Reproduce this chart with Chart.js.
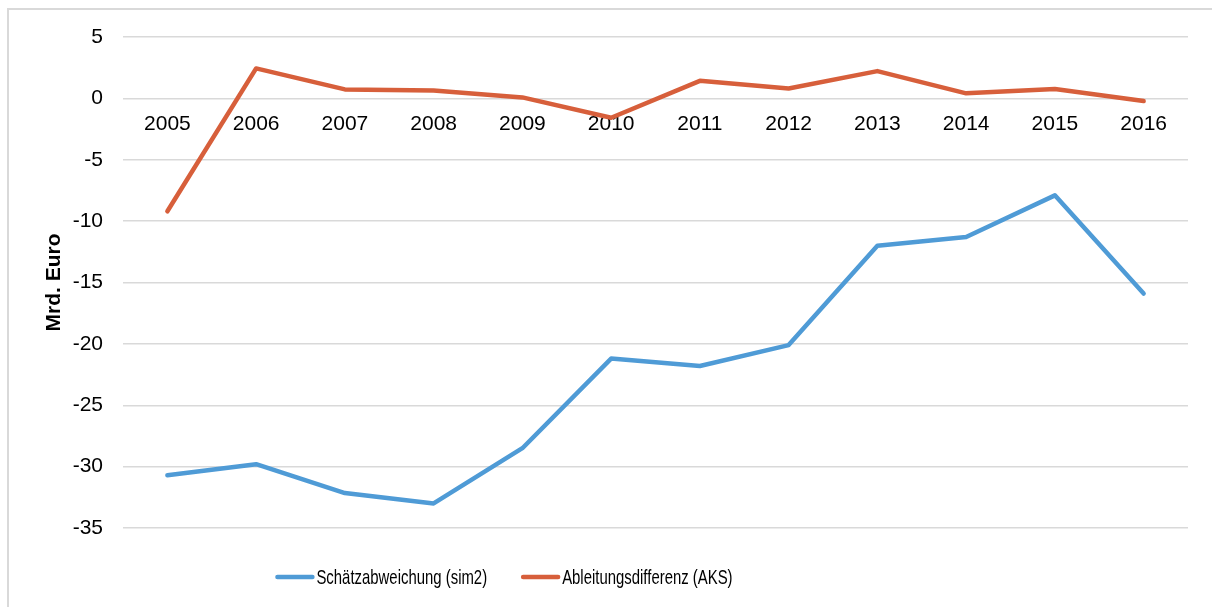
<!DOCTYPE html>
<html><head><meta charset="utf-8">
<script src="https://cdn.jsdelivr.net/npm/chart.js@4/dist/chart.umd.min.js"></script>
<style>
html,body{margin:0;padding:0;background:#fff;}
#wrap{position:relative;width:1212px;height:607px;overflow:hidden;background:#fff;}
#frame{position:absolute;left:7px;top:8px;width:1300px;height:700px;border-left:2px solid #d9d9d9;border-top:2px solid #d9d9d9;}
canvas{position:absolute;left:0;top:0;}
</style></head><body>
<div id="wrap"><div id="frame"></div><canvas id="c" width="1212" height="607"></canvas></div>
<script>
const years = ['2005','2006','2007','2008','2009','2010','2011','2012','2013','2014','2015','2016'];
const sim2 = [-30.7, -29.8, -32.15, -33.0, -28.5, -21.2, -21.8, -20.1, -12.0, -11.3, -7.9, -15.9];
const aks  = [-9.2, 2.44, 0.73, 0.65, 0.08, -1.58, 1.43, 0.81, 2.22, 0.41, 0.76, -0.22];
const seriesNames = ['Schätzabweichung (sim2)', 'Ableitungsdifferenz (AKS)'];
const yMin = -35, yMax = 5, yStep = 5;
const axisTitle = 'Mrd. Euro';

const FONT = '"Liberation Sans", Arial, sans-serif';

const legendPlugin = {
  id: 'customLegend',
  afterDraw(chart) {
    const ctx = chart.ctx;
    const fs = 21, sx = 0.71, lineLen = 35, gap = 4, itemGap = 36, cy = 577, cx = 505;
    ctx.save();
    ctx.font = fs + 'px ' + FONT;
    const items = chart.data.datasets.map(ds => ({
      label: ds.label, color: ds.borderColor, w: ctx.measureText(ds.label).width * sx
    }));
    const total = items.reduce((s, it) => s + lineLen + gap + it.w, 0) + itemGap * (items.length - 1);
    let x = cx - total / 2;
    items.forEach(it => {
      ctx.strokeStyle = it.color;
      ctx.lineWidth = 4.5;
      ctx.lineCap = 'round';
      ctx.beginPath();
      ctx.moveTo(x, cy);
      ctx.lineTo(x + lineLen, cy);
      ctx.stroke();
      x += lineLen + gap;
      ctx.save();
      ctx.translate(x, cy + 1);
      ctx.scale(sx, 1);
      ctx.fillStyle = '#000';
      ctx.textBaseline = 'middle';
      ctx.textAlign = 'left';
      ctx.fillText(it.label, 0, 0);
      ctx.restore();
      x += it.w + itemGap;
    });
    ctx.restore();
  }
};

new Chart(document.getElementById('c'), {
  type: 'line',
  data: {
    labels: years,
    datasets: [
      { label: seriesNames[0], data: sim2, borderColor: '#4f9bd6', backgroundColor: '#4f9bd6',
        borderWidth: 4.5, pointRadius: 0, tension: 0, borderCapStyle: 'round', borderJoinStyle: 'round' },
      { label: seriesNames[1], data: aks, borderColor: '#d75f3b', backgroundColor: '#d75f3b',
        borderWidth: 4.5, pointRadius: 0, tension: 0, borderCapStyle: 'round', borderJoinStyle: 'round' }
    ]
  },
  options: {
    responsive: false,
    animation: false,
    devicePixelRatio: 1,
    layout: { padding: { left: 42, right: 24, top: 37, bottom: 79 } },
    plugins: { legend: { display: false }, tooltip: { enabled: false } },
    scales: {
      x: {
        type: 'category',
        offset: true,
        position: { y: 0 },
        grid: { display: false, drawTicks: false },
        border: { display: false },
        ticks: { font: { family: FONT, size: 21 }, color: '#000', padding: 13, maxRotation: 0, autoSkip: false }
      },
      y: {
        min: yMin, max: yMax,
        grid: { color: '#d9d9d9', lineWidth: 1.5, drawTicks: false },
        border: { display: false },
        ticks: { stepSize: yStep, font: { family: FONT, size: 21 }, color: '#000', padding: 20 },
        title: { display: true, text: axisTitle, font: { family: FONT, size: 21, weight: 'bold' }, color: '#000', padding: { top: 0, bottom: 0 } },
        afterFit(scale) { scale.width = 81; }
      }
    }
  },
  plugins: [legendPlugin]
});
</script>
</body></html>
